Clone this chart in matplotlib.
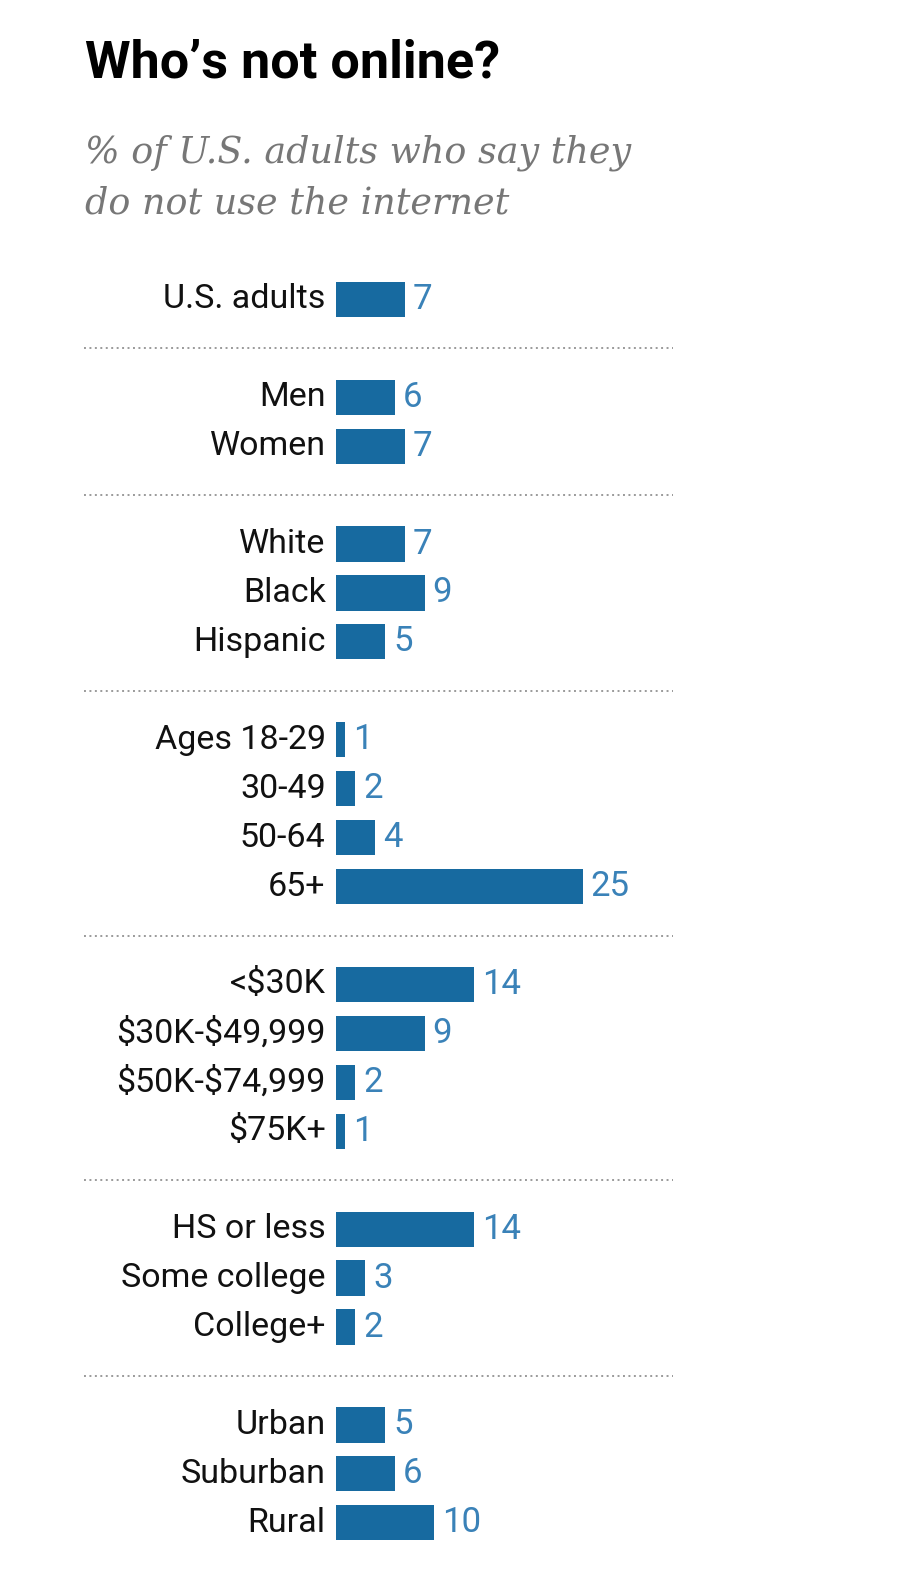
import matplotlib
matplotlib.use("Agg")
import matplotlib.pyplot as plt

plt.rcParams["text.parse_math"] = False

categories = ["U.S. adults", None, "Men", "Women", None, "White", "Black", "Hispanic", None,
              "Ages 18-29", "30-49", "50-64", "65+", None,
              "<$30K", "$30K-$49,999", "$50K-$74,999", "$75K+", None,
              "HS or less", "Some college", "College+", None,
              "Urban", "Suburban", "Rural"]
values = [7, None, 6, 7, None, 7, 9, 5, None,
          1, 2, 4, 25, None,
          14, 9, 2, 1, None,
          14, 3, 2, None,
          5, 6, 10]

title = "Who\u2019s not online?"
subtitle = "% of U.S. adults who say they\ndo not use the internet"

W, H = 904, 1580
fig = plt.figure(figsize=(W / 100, H / 100), dpi=100)
ax = fig.add_axes([0, 0, 1, 1])
ax.axis("off")

px_per_unit = 9.88
x0 = 335.6
pitch = 48.94
y0 = 299.3
ax.set_xlim(-x0 / px_per_unit, (W - x0) / px_per_unit)
ax.set_ylim((H - y0) / pitch, -y0 / pitch)

bar_color = "#176aa0"
val_color = "#3a82b8"

for i, (cat, v) in enumerate(zip(categories, values)):
    if cat is None:
        ax.plot([(84 - x0) / px_per_unit, (673 - x0) / px_per_unit], [i, i],
                color="#9a9a9a", lw=1.4, linestyle=(0, (1, 1.8)))
        continue
    ax.barh(i, v, height=0.72, left=0, color=bar_color)
    ax.text(-1.0, i, cat, ha="right", va="center", fontsize=24.5,
            family="Roboto", color="#111111")
    ax.text(v + 0.8, i, str(v), ha="left", va="center", fontsize=25,
            family="Roboto", color=val_color)

fig.text(85 / W, 1 - 64 / H, title, fontsize=37.5, fontweight="bold",
         family="Roboto", color="#000000", ha="left", va="center")
fig.text(85 / W, 1 - 178 / H, subtitle, fontsize=26.3, style="italic",
         family="DejaVu Serif", color="#777777", ha="left", va="center",
         linespacing=1.55)

fig.savefig("out.png", dpi=100, facecolor="white")
